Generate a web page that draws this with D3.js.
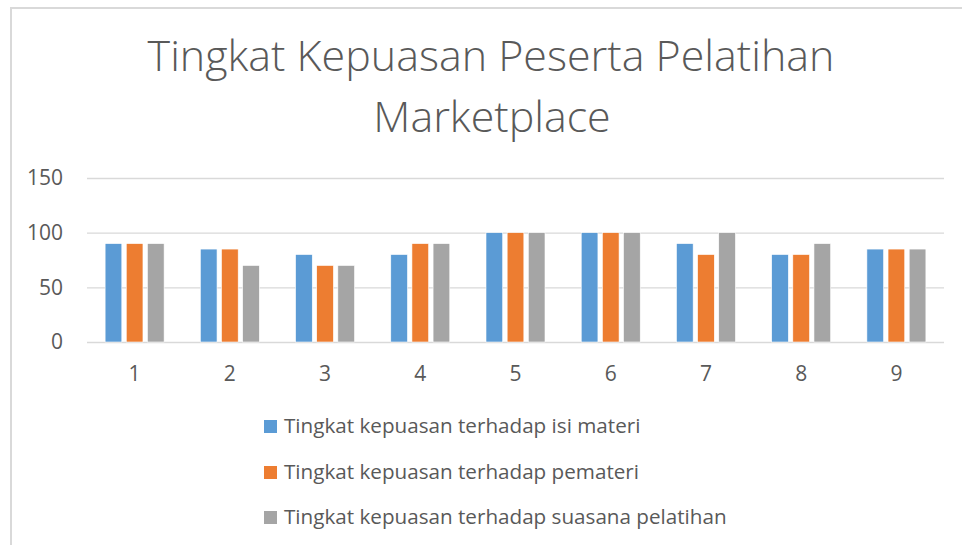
<!DOCTYPE html>
<html>
<head>
    <meta charset="utf-8">
    <title>Tingkat Kepuasan Peserta Pelatihan Marketplace</title>
    <script src="https://d3js.org/d3.v7.min.js"></script>
    <style>
        html, body { margin: 0; padding: 0; background: #fff; }
        svg text { font-family: 'Open Sans', 'Noto Sans', sans-serif; fill: #595959; }
    </style>
</head>
<body>
<div id="chart"></div>
<script>
    // data
    const categories = ["1", "2", "3", "4", "5", "6", "7", "8", "9"];
    const seriesNames = [
        "Tingkat kepuasan terhadap isi materi",
        "Tingkat kepuasan terhadap pemateri",
        "Tingkat kepuasan terhadap suasana pelatihan"
    ];
    const isiMateri = [90, 85, 80, 80, 100, 100, 90, 80, 85];
    const pemateri  = [90, 85, 70, 90, 100, 100, 80, 80, 85];
    const suasana   = [90, 70, 70, 90, 100, 100, 100, 90, 85];
    const yTicks = [0, 50, 100, 150];
    const colors = ["#5B9BD5", "#ED7D31", "#A5A5A5"];

    const allSeries = [isiMateri, pemateri, suasana];

    const W = 962, H = 545;
    const plot = { left: 87, right: 944, top: 178, bottom: 342 };

    const svg = d3.select("#chart").append("svg")
        .attr("width", W)
        .attr("height", H);

    // chart area border (only top and left visible)
    svg.append("path")
        .attr("d", `M11,${H} L11,8 L${W},8`)
        .attr("fill", "none")
        .attr("stroke", "#d9d9d9")
        .attr("stroke-width", 2);

    // shrink/grow a text so it spans a given width
    function fitWidth(sel, target) {
        const fs = parseFloat(sel.style("font-size"));
        const len = sel.node().getComputedTextLength();
        sel.style("font-size", (fs * target / len) + "px");
    }

    // title
    const t1 = svg.append("text")
        .attr("x", 491).attr("y", 71)
        .attr("text-anchor", "middle")
        .style("font-size", "36px")
        .style("font-weight", 300)
        .text("Tingkat Kepuasan Peserta Pelatihan");
    fitWidth(t1, 687);
    svg.append("text")
        .attr("x", 492).attr("y", 132)
        .attr("text-anchor", "middle")
        .style("font-size", t1.style("font-size"))
        .style("font-weight", 300)
        .text("Marketplace");

    const x0 = d3.scaleBand()
        .domain(categories)
        .range([plot.left, plot.right]);

    const groupW = 59;
    const x1 = d3.scaleBand()
        .domain(d3.range(seriesNames.length))
        .range([0, groupW])
        .paddingInner(0.21);

    const y = d3.scaleLinear()
        .domain([0, 150])
        .range([plot.bottom, plot.top]);

    // y axis + gridlines
    const yAxis = svg.append("g")
        .attr("transform", `translate(${plot.left},0)`)
        .call(d3.axisLeft(y)
            .tickValues(yTicks)
            .tickSizeInner(-(plot.right - plot.left))
            .tickSizeOuter(0)
            .tickPadding(24));
    yAxis.select(".domain").remove();
    yAxis.attr("font-family", null);
    yAxis.selectAll("line").attr("stroke", "#d9d9d9").attr("stroke-width", 1.3);
    yAxis.selectAll("text")
        .attr("fill", "#595959")
        .style("font-size", "21px");

    // bars
    categories.forEach((c, i) => {
        const gx = x0(c) + x0.bandwidth() / 2 - groupW / 2;
        allSeries.forEach((s, k) => {
            svg.append("rect")
                .attr("x", gx + x1(k))
                .attr("y", y(s[i]))
                .attr("width", x1.bandwidth())
                .attr("height", y(0) - y(s[i]))
                .attr("fill", colors[k])
                .attr("stroke", "#fff")
                .attr("stroke-width", 0.6);
        });
    });

    // x axis labels
    const xAxis = svg.append("g")
        .attr("transform", `translate(0,${plot.bottom})`)
        .call(d3.axisBottom(x0).tickSize(0).tickSizeOuter(0));
    xAxis.select(".domain").remove();
    xAxis.attr("font-family", null);
    xAxis.selectAll("text")
        .attr("y", 39)
        .attr("dy", 0)
        .attr("fill", "#595959")
        .style("font-size", "21px");

    // legend
    const legendY = [433, 479, 524];
    const legendTexts = [];
    seriesNames.forEach((name, k) => {
        svg.append("rect")
            .attr("x", 264)
            .attr("y", legendY[k] - 13)
            .attr("width", 13)
            .attr("height", 13)
            .attr("fill", colors[k]);
        legendTexts.push(svg.append("text")
            .attr("x", 284)
            .attr("y", legendY[k])
            .style("font-size", "20px")
            .text(name));
    });
    // longest label sets the size for all three
    fitWidth(legendTexts[2], 443);
    legendTexts.forEach(t => t.style("font-size", legendTexts[2].style("font-size")));
</script>
</body>
</html>
